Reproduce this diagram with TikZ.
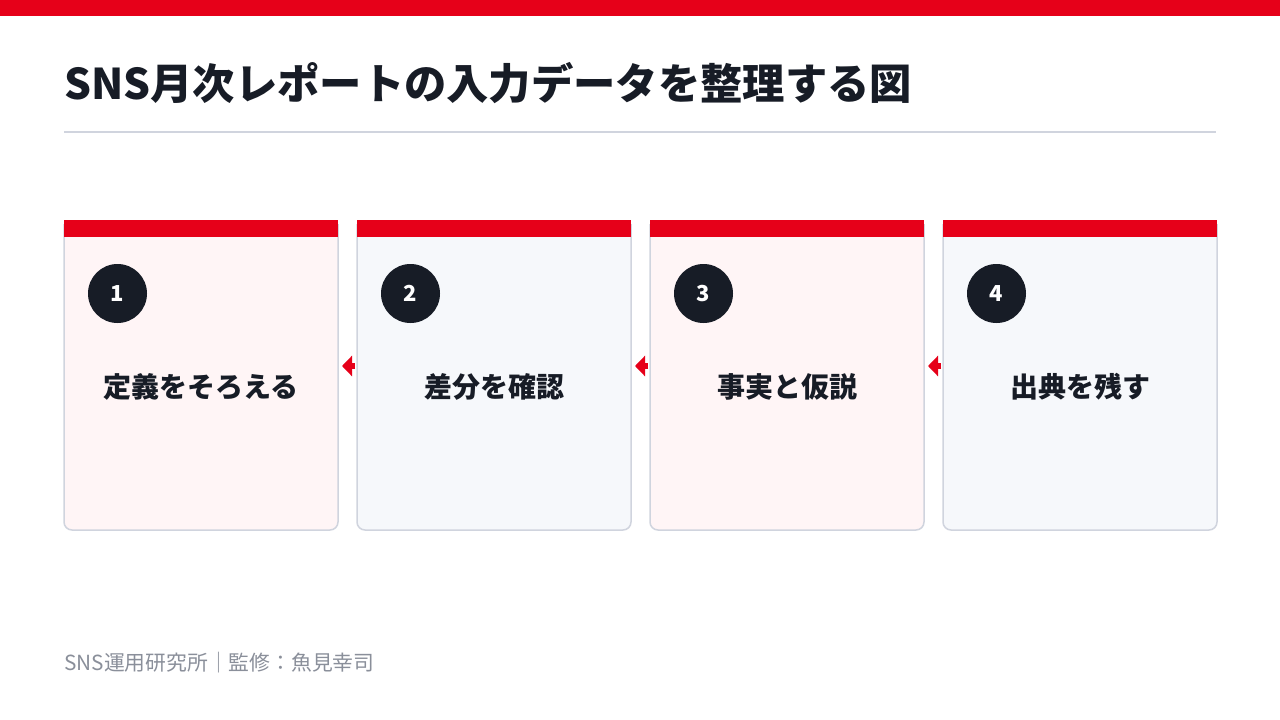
\documentclass[tikz,border=0pt]{standalone}
\usepackage{fontspec}
\setmainfont{Noto Sans CJK JP}
\usetikzlibrary{arrows.meta}
\definecolor{brandred}{HTML}{E60019}
\definecolor{ink}{HTML}{171C26}
\definecolor{rulegray}{HTML}{D0D4DE}
\definecolor{cardpink}{HTML}{FFF5F6}
\definecolor{cardblue}{HTML}{F6F8FB}
\definecolor{foot}{HTML}{8A8F9A}
\tikzset{
  card/.style={draw=rulegray, line width=1.5pt, rounded corners=8pt},
  numdot/.style={circle, fill=ink, minimum size=59pt, inner sep=0pt, text=white, font=\fontsize{22}{24}\selectfont\bfseries},
  cardlabel/.style={text=ink, font=\fontsize{28}{30}\selectfont\bfseries, anchor=center},
  flow/.style={draw=brandred, line width=6pt, -{Triangle[length=10pt,width=20pt]}, brandred},
}
\begin{document}
\begin{tikzpicture}[x=1pt,y=-1pt]
\useasboundingbox (0,0) rectangle (1280,720);
\fill[white] (0,0) rectangle (1280,720);
\fill[brandred] (0,0) rectangle (1280,16);
\node[anchor=base west, inner sep=0pt, text=ink, font=\fontsize{42.3}{46}\selectfont\bfseries] (title) at (64,99) {SNS月次レポートの入力データを整理する図};
\draw[rulegray, line width=2pt] (64,132) -- (1216,132);
\foreach \i/\x/\fillc/\lab in {1/64/cardpink/定義をそろえる, 2/357/cardblue/差分を確認, 3/650/cardpink/事実と仮説, 4/943/cardblue/出典を残す}{
  \path[fill=\fillc, rounded corners=8pt] (\x,224) -- (\x,530) -- (\x+274,530) -- (\x+274,224) -- cycle;
  \draw[card] (\x,224) -- (\x,530) -- (\x+274,530) -- (\x+274,224);
  \fill[brandred] (\x,220) rectangle (\x+274,237);
  \node[numdot] (n\i) at (\x+53.5,293.5) {\i};
  \node[cardlabel] (c\i) at (\x+137,387) {\lab};
  \coordinate (L\i) at (\x,366);
  \coordinate (R\i) at (\x+274,366);
}
\foreach \a/\b in {2/1,3/2,4/3}{
  \draw[flow] ([xshift=-2pt]L\a) -- ([xshift=4pt]R\b);
}
\node[anchor=base west, inner sep=0pt, text=foot, font=\fontsize{20.8}{23}\selectfont] (footer) at (64,670) {SNS運用研究所｜監修：魚見幸司};
\end{tikzpicture}
\end{document}
